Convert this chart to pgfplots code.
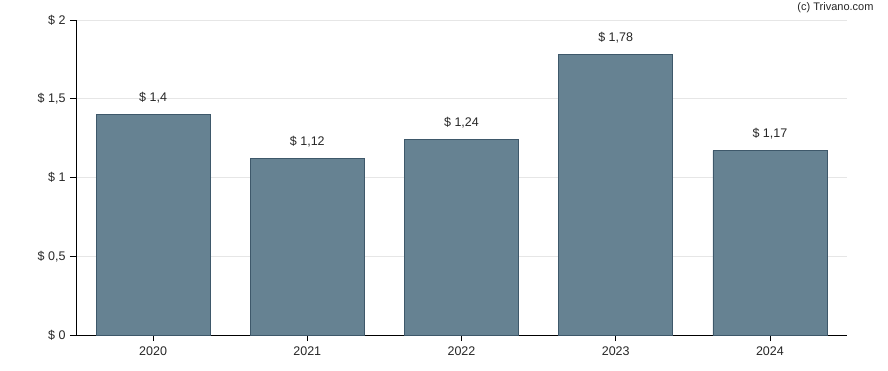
\documentclass[border=0pt]{standalone}
\usepackage{fontspec}
\setmainfont{Liberation Sans}
\usepackage{pgfplots}
\pgfplotsset{compat=1.18}
\definecolor{barfill}{RGB}{102,130,146}
\definecolor{barline}{RGB}{62,88,106}
\definecolor{gridc}{RGB}{230,230,230}
\begin{document}
\begin{tikzpicture}
\begin{axis}[
  at={(0,0)}, anchor=south west,
  scale only axis, width=771pt, height=315pt,
  xmin=-0.5, xmax=4.5, ymin=0, ymax=2,
  axis x line*=bottom, axis y line*=left,
  axis line style={-, black, line width=0.9pt},
  xtick={0,1,2,3,4},
  xticklabels={2020,2021,2022,2023,2024},
  ytick={0,0.5,1,1.5,2},
  yticklabels={{\$ 0},{\$ 0,5},{\$ 1},{\$ 1,5},{\$ 2}},
  tick align=outside, major tick length=6pt,
  tick style={black, line width=0.8pt},
  ymajorgrids, grid style={gridc, line width=0.8pt},
  ticklabel style={font=\fontsize{12.5}{14}\selectfont, text=black!85},
  xticklabel style={yshift=-2pt},
  yticklabel style={xshift=-1pt},
  /pgf/number format/assume math mode=true,
  clip=false,
]
\addplot[ybar, bar width=114pt, fill=barfill, draw=barline, line width=0.7pt,
  nodes near coords={\$ \pgfmathprintnumber[use comma]{\pgfplotspointmeta}},
  nodes near coords style={font=\fontsize{12.5}{14}\selectfont, text=black!85, anchor=south, yshift=7.5pt},
] coordinates {(0,1.40) (1,1.12) (2,1.24) (3,1.78) (4,1.17)};
\node[anchor=east, font=\fontsize{11}{13}\selectfont, text=black!85] at ([xshift=30pt,yshift=12pt]rel axis cs:1,1) {(c) Trivano.com};
\end{axis}
\pgfresetboundingbox
\path (-76pt,-35pt) rectangle (812pt,335pt);
\end{tikzpicture}
\end{document}
